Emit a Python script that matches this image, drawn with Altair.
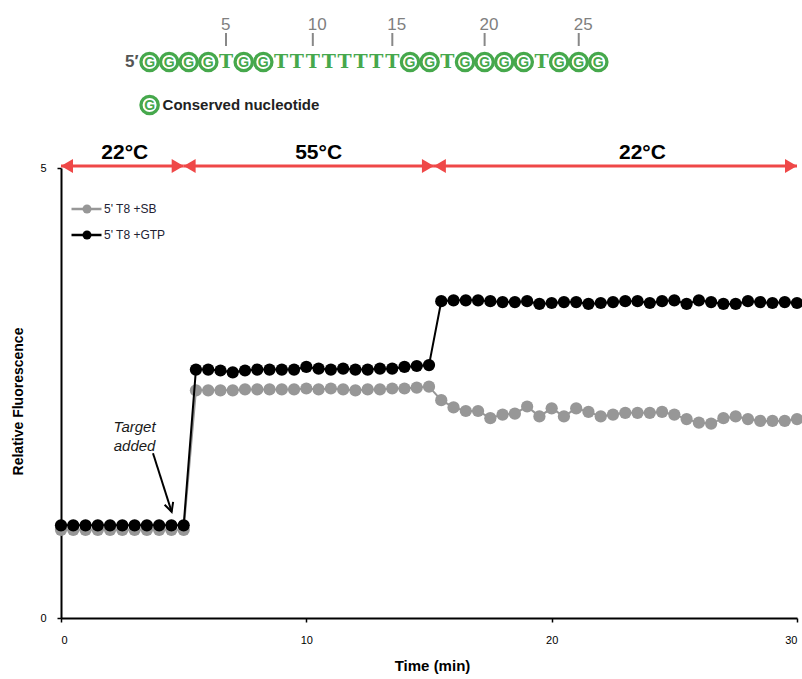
import altair as alt
import pandas as pd

# ---------------- data ----------------
times = [0.0, 0.5, 1.0, 1.5, 2.0, 2.5, 3.0, 3.5, 4.0, 4.5, 5.0,
         5.5, 6.0, 6.5, 7.0, 7.5, 8.0, 8.5, 9.0, 9.5, 10.0,
         10.5, 11.0, 11.5, 12.0, 12.5, 13.0, 13.5, 14.0, 14.5, 15.0,
         15.5, 16.0, 16.5, 17.0, 17.5, 18.0, 18.5, 19.0, 19.5, 20.0,
         20.5, 21.0, 21.5, 22.0, 22.5, 23.0, 23.5, 24.0, 24.5, 25.0,
         25.5, 26.0, 26.5, 27.0, 27.5, 28.0, 28.5, 29.0, 29.5, 30.0]

sb_values = [0.98, 0.98, 0.98, 0.98, 0.98, 0.98, 0.98, 0.98, 0.98, 0.98, 0.98,
             2.53, 2.53, 2.53, 2.53, 2.54, 2.54, 2.54, 2.54, 2.54, 2.55,
             2.54, 2.55, 2.54, 2.53, 2.54, 2.54, 2.55, 2.55, 2.56, 2.57,
             2.42, 2.34, 2.30, 2.30, 2.22, 2.26, 2.27, 2.35, 2.24, 2.33,
             2.24, 2.33, 2.29, 2.24, 2.26, 2.28, 2.28, 2.28, 2.29, 2.26,
             2.21, 2.17, 2.16, 2.22, 2.24, 2.21, 2.19, 2.19, 2.19, 2.21]

gtp_values = [1.03, 1.03, 1.03, 1.03, 1.03, 1.03, 1.03, 1.03, 1.03, 1.03, 1.03,
              2.76, 2.76, 2.75, 2.73, 2.75, 2.76, 2.76, 2.76, 2.76, 2.79,
              2.77, 2.76, 2.77, 2.76, 2.76, 2.77, 2.77, 2.79, 2.80, 2.81,
              3.52, 3.53, 3.53, 3.53, 3.52, 3.51, 3.51, 3.52, 3.49, 3.50,
              3.51, 3.51, 3.49, 3.50, 3.51, 3.52, 3.52, 3.50, 3.52, 3.53,
              3.49, 3.53, 3.51, 3.49, 3.49, 3.52, 3.51, 3.50, 3.51, 3.50]

series_names = ["5' T8 +SB", "5' T8 +GTP"]
series_colors = ["#979797", "#000000"]

phase_labels = ["22°C", "55°C", "22°C"]
phase_start = [0.0, 5.0, 15.2]
phase_end = [5.0, 15.2, 30.0]
phase_label_time = [2.6, 10.5, 23.7]

sequence = list("GGGGTGGTTTTTTTTGGTGGGGTGGG")
position_ticks = [5, 10, 15, 20, 25]

x_ticks = [0, 10, 20, 30]
y_ticks = [0, 5]

target_text = ["Target\nadded"]
target_time = [3.0]
target_level = [2.12]
target_arrow_from = [3.75, 1.83]
target_arrow_to = [4.51, 1.18]

# ---------------- layout / style ----------------
W, H = 736, 450
GREEN = "#46a84c"
RED = "#ef4848"
FONT = "Liberation Sans"

x_scale = alt.Scale(domain=[0, 30], nice=False, zero=False)
y_scale = alt.Scale(domain=[0, 5], nice=False)

x_axis = alt.Axis(values=x_ticks, title="Time (min)", grid=False,
                  domainColor="black", domainWidth=2, tickColor="black",
                  tickWidth=1.5, tickSize=4, labelFont=FONT, labelFontSize=11,
                  labelColor="black", labelPadding=12, titleFont=FONT,
                  titleFontSize=15, titleFontWeight="bold", titleColor="black",
                  titleX=W / 2 + 3, titleY=47, titleBaseline="middle",
                  titleAlign="center")
y_axis = alt.Axis(values=y_ticks, title="Relative Fluorescence", grid=False,
                  domainColor="black", domainWidth=2, tickColor="black",
                  tickWidth=1.5, tickSize=4, labelFont=FONT, labelFontSize=11,
                  labelColor="black", labelPadding=11, titleFont=FONT,
                  titleFontSize=14, titleFontWeight="bold", titleColor="black",
                  titleX=-43, titleY=H / 2 + 8, titleAngle=270,
                  titleBaseline="middle", titleAlign="center")

df = pd.DataFrame({
    "time": times + times,
    "value": sb_values + gtp_values,
    "series": [series_names[0]] * len(times) + [series_names[1]] * len(times),
})

layers = []
for i, (name, col) in enumerate(zip(series_names, series_colors)):
    base = alt.Chart(df).transform_filter(alt.datum.series == name)
    with_axes = (i == len(series_names) - 1)
    line_enc = dict(
        x=alt.X("time:Q", scale=x_scale, axis=x_axis if with_axes else None),
        y=alt.Y("value:Q", scale=y_scale, axis=y_axis if with_axes else None))
    pt_enc = dict(x=alt.X("time:Q", scale=x_scale, axis=None),
                  y=alt.Y("value:Q", scale=y_scale, axis=None))
    layers.append(base.mark_line(color=col, strokeWidth=2).encode(**line_enc))
    layers.append(base.mark_point(filled=True, color=col, size=150, opacity=1,
                                  strokeWidth=0).encode(**pt_enc))

# temperature phase arrows
phase_df = pd.DataFrame({"label": phase_labels, "start": phase_start,
                         "end": phase_end, "mid": phase_label_time})
ARROW_Y = -2
pbase = alt.Chart(phase_df)
layers.append(pbase.mark_rule(color=RED, strokeWidth=3).encode(
    x=alt.X("start:Q", scale=x_scale, axis=None), x2="end:Q",
    y=alt.value(ARROW_Y)))
layers.append(pbase.mark_point(shape="triangle-left", filled=True, color=RED,
                               size=190, opacity=1, xOffset=6).encode(
    x=alt.X("start:Q", scale=x_scale, axis=None), y=alt.value(ARROW_Y)))
layers.append(pbase.mark_point(shape="triangle-right", filled=True, color=RED,
                               size=190, opacity=1, xOffset=-6).encode(
    x=alt.X("end:Q", scale=x_scale, axis=None), y=alt.value(ARROW_Y)))
layers.append(pbase.mark_text(font=FONT, fontSize=21, fontWeight="bold",
                              color="black", baseline="middle").encode(
    x=alt.X("mid:Q", scale=x_scale, axis=None), y=alt.value(-15),
    text="label:N"))

# "Target added" annotation
tdf = pd.DataFrame({"t": target_time, "v": target_level, "txt": target_text})
layers.append(alt.Chart(tdf).mark_text(font=FONT, fontSize=15,
                                       fontStyle="italic", color="#1a1a1a",
                                       lineBreak="\n", lineHeight=19,
                                       baseline="middle").encode(
    x=alt.X("t:Q", scale=x_scale, axis=None),
    y=alt.Y("v:Q", scale=y_scale, axis=None), text="txt:N"))
adf = pd.DataFrame({"x0": [target_arrow_from[0]], "y0": [target_arrow_from[1]],
                    "x1": [target_arrow_to[0]], "y1": [target_arrow_to[1]]})
layers.append(alt.Chart(adf).mark_rule(color="black", strokeWidth=2).encode(
    x=alt.X("x0:Q", scale=x_scale, axis=None), x2="x1:Q",
    y=alt.Y("y0:Q", scale=y_scale, axis=None), y2="y1:Q"))
layers.append(alt.Chart(adf).mark_point(
    shape="M -0.5,-1 L 0,0 L 0.5,-1", filled=False, color="black",
    strokeWidth=2, size=320, angle=342, opacity=1).encode(
    x=alt.X("x1:Q", scale=x_scale, axis=None),
    y=alt.Y("y1:Q", scale=y_scale, axis=None)))

# manual legend (top-left inside plot)
leg_df = pd.DataFrame({"name": series_names, "color": series_colors,
                       "row": list(range(len(series_names)))})
lbase = alt.Chart(leg_df).transform_calculate(ly="41 + 26 * datum.row")
LY = alt.Y("ly:Q", scale=None, axis=None)
LC = alt.Color("color:N", scale=None, legend=None)
layers.append(lbase.mark_rule(strokeWidth=2.5).encode(
    x=alt.value(10.5), x2=alt.value(40.5), y=LY, color=LC))
layers.append(lbase.mark_point(filled=True, size=80, opacity=1).encode(
    x=alt.value(26), y=LY, color=LC))
layers.append(lbase.mark_text(font=FONT, fontSize=12, align="left",
                              baseline="middle", color="#222233").encode(
    x=alt.value(43), y=LY, text="name:N"))

# sequence header (above plot)
widths = {"G": 1.23, "T": 1.0}
centers = []
acc = 0.0
for ch in sequence:
    centers.append(acc + widths[ch] / 2)
    acc += widths[ch]
PX_UNIT = 15.9
FIRST_PX = 88.6
nuc_df = pd.DataFrame({"idx": list(range(1, len(sequence) + 1)),
                       "letter": sequence, "u": centers})
nuc_df["px"] = FIRST_PX + (nuc_df["u"] - centers[0]) * PX_UNIT
nuc_df["num"] = nuc_df["idx"].astype(str)
SEQ_Y = -106
NX = alt.X("px:Q", scale=None, axis=None)

nbase = alt.Chart(nuc_df)
layers.append(nbase.transform_filter(alt.datum.letter == "G").mark_point(
    shape="circle", size=300, filled=True, fill="white", stroke=GREEN,
    strokeWidth=3.3, opacity=1).encode(x=NX, y=alt.value(SEQ_Y)))
layers.append(nbase.transform_filter(alt.datum.letter == "G").mark_text(
    font=FONT, fontWeight="bold", fontSize=14, color=GREEN,
    baseline="middle").encode(x=NX, y=alt.value(SEQ_Y + 0.5), text="letter:N"))
layers.append(nbase.transform_filter(alt.datum.letter == "T").mark_text(
    font="DejaVu Serif", fontWeight="bold", fontSize=19, color=GREEN,
    baseline="middle").encode(x=NX, y=alt.value(SEQ_Y), text="letter:N"))

tick_base = nbase.transform_filter(
    alt.FieldOneOfPredicate(field="idx", oneOf=position_ticks))
layers.append(tick_base.mark_rule(color="#888888", strokeWidth=2).encode(
    x=NX, y=alt.value(-135), y2=alt.value(-122)))
layers.append(tick_base.mark_text(font=FONT, fontSize=17, color="#808080",
                                  align="left", dx=-5,
                                  baseline="middle").encode(
    x=NX, y=alt.value(-143), text="num:N"))

first_df = nuc_df.iloc[[0]].copy()
first_df["prime"] = "5\u2032"
first_df["label"] = "Conserved nucleotide"
fbase = alt.Chart(first_df)
layers.append(fbase.mark_text(font=FONT, fontSize=17, fontWeight="bold",
                              color="#555555", align="right", dx=-11,
                              baseline="middle").encode(
    x=NX, y=alt.value(SEQ_Y), text="prime:N"))
layers.append(fbase.mark_point(shape="circle", size=300, filled=True,
                               fill="white", stroke=GREEN, strokeWidth=3.3,
                               opacity=1).encode(x=NX, y=alt.value(-63)))
layers.append(fbase.mark_text(font=FONT, fontWeight="bold", fontSize=14,
                              color=GREEN, baseline="middle").encode(
    x=NX, y=alt.value(-62.5), text="letter:N"))
layers.append(fbase.mark_text(font=FONT, fontWeight="bold", fontSize=15,
                              color="#222222", align="left", dx=13,
                              baseline="middle").encode(
    x=NX, y=alt.value(-63), text="label:N"))

chart = alt.layer(*layers).resolve_axis(
    x="independent", y="independent"
).properties(
    width=W, height=H,
    padding={"left": 61, "top": 168, "right": 5, "bottom": 61},
    autosize=alt.AutoSizeParams(type="none"),
    background="white",
).configure_view(stroke=None)

chart.save("out.html", embed_options={"renderer": "svg", "actions": False})
